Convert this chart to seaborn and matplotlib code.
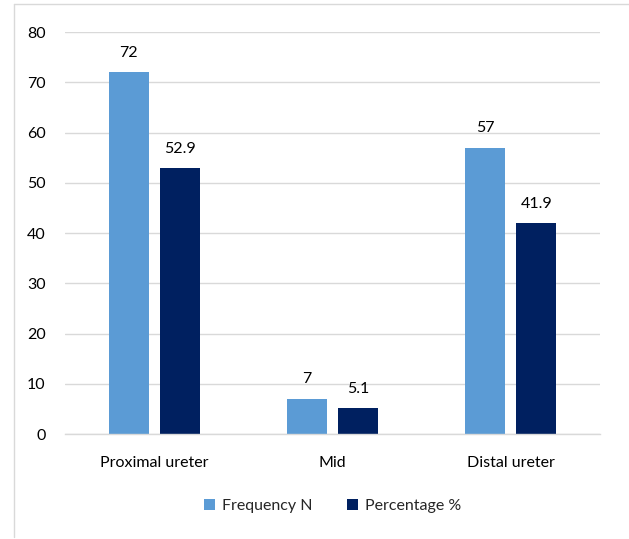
import matplotlib
matplotlib.use("Agg")
import matplotlib.pyplot as plt
from matplotlib.lines import Line2D
import seaborn as sns
import pandas as pd

categories = ["Proximal ureter", "Mid", "Distal ureter"]
frequency_n = [72, 7, 57]
percentage = [52.9, 5.1, 41.9]
series_names = ["Frequency N", "Percentage %"]
colors = ["#5B9BD5", "#002060"]

df = pd.DataFrame({
    "Location": categories * 2,
    "Value": frequency_n + percentage,
    "Series": [series_names[0]] * 3 + [series_names[1]] * 3,
})

sns.set_theme(style="white")
plt.rcParams["font.family"] = ["Lato", "DejaVu Sans"]

fig = plt.figure(figsize=(6.29, 5.39), dpi=100)
ax = fig.add_axes([0.1033, 0.1948, 0.8507, 0.7458])

sns.barplot(data=df, x="Location", y="Value", hue="Series", order=categories,
            hue_order=series_names, palette=colors, width=0.573, gap=0.215,
            saturation=1, ax=ax, legend=True, errorbar=None, linewidth=0)

ax.set_ylim(0, 80)
ax.set_xlim(-0.5, 2.5)
ax.set_yticks(range(0, 81, 10))
ax.yaxis.grid(True, color="#D9D9D9", linewidth=1)
ax.set_axisbelow(True)
for s in ["left", "right", "top"]:
    ax.spines[s].set_visible(False)
ax.spines["bottom"].set_color("#D9D9D9")
ax.spines["bottom"].set_linewidth(1)
ax.tick_params(axis="both", length=0, labelsize=11.5, colors="#000000")
ax.tick_params(axis="y", pad=14)
ax.tick_params(axis="x", pad=16)
ax.set_xlabel("")
ax.set_ylabel("")

for container in ax.containers:
    ax.bar_label(container, labels=[f"{v:g}" for v in container.datavalues],
                 padding=9, fontsize=11.5, color="#000000")

leg = ax.legend(loc="upper center", bbox_to_anchor=(0.5, -0.125), ncol=2,
                frameon=False, fontsize=11.5, handlelength=0.7, handleheight=0.7,
                columnspacing=2.2, handletextpad=0.4)

# Chart frame: left and top edges only
x0 = 13.5 / 629
y1 = 1 - 3.5 / 539
fig.add_artist(Line2D([x0, x0], [0.003, y1], transform=fig.transFigure,
                      color="#D9D9D9", linewidth=1))
fig.add_artist(Line2D([x0, 1], [y1, y1], transform=fig.transFigure,
                      color="#D9D9D9", linewidth=1))

fig.savefig("out.png", dpi=100, facecolor="white")
